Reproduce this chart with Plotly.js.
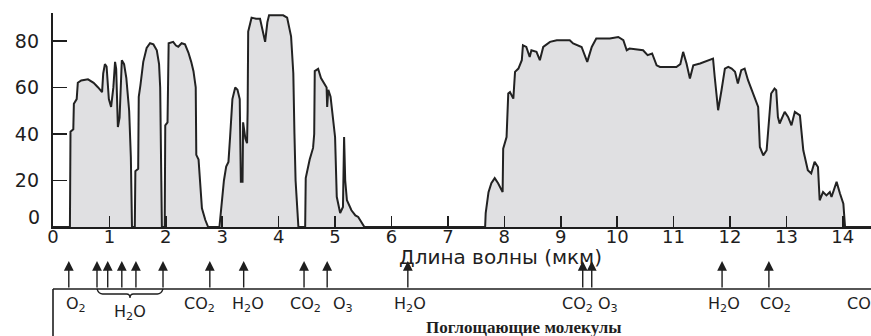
<!DOCTYPE html>
<html>
<head>
<meta charset="utf-8">
<script src="https://cdn.plot.ly/plotly-3.0.1.min.js"></script>
<style>html,body{margin:0;padding:0;background:#fff;}#chart{width:871px;height:336px;}</style>
</head>
<body>
<div id="chart"></div>
<script>
// Wavelength (µm) and atmospheric transmission (%)
const wavelength = [
  0, 0.30, 0.31, 0.36, 0.37, 0.42, 0.44, 0.50, 0.62, 0.72, 0.80, 0.87, 0.89, 0.92, 0.95, 0.99, 1.03, 1.07, 1.10, 1.12, 1.15, 1.18, 1.22, 1.26, 1.30, 1.35, 1.38, 1.40,
  1.45, 1.46, 1.51, 1.52, 1.55, 1.60, 1.66, 1.72, 1.78, 1.84, 1.88, 1.90, 1.92, 1.93,
  1.98, 1.99, 2.03, 2.05, 2.13, 2.18, 2.22, 2.28, 2.34, 2.40, 2.45, 2.49, 2.53, 2.54, 2.58, 2.60, 2.64, 2.70, 2.75,
  2.95, 2.99, 3.03, 3.07, 3.11, 3.14, 3.18, 3.23, 3.27, 3.31, 3.33, 3.36, 3.37, 3.41, 3.44, 3.45, 3.46, 3.52, 3.60, 3.67, 3.72, 3.76, 3.80, 3.83, 4.08, 4.15, 4.22, 4.26, 4.28, 4.30, 4.35,
  4.47, 4.48, 4.55, 4.61, 4.63, 4.64, 4.70, 4.75, 4.80, 4.85, 4.86, 4.88, 4.92, 4.97, 5.00, 5.03, 5.09, 5.14, 5.16, 5.18, 5.21, 5.29, 5.36, 5.41, 5.50, 5.52,
  7.66, 7.67, 7.72, 7.77, 7.83, 7.89, 7.97, 7.98, 8.04, 8.07, 8.10, 8.16, 8.19, 8.25, 8.31, 8.33, 8.39, 8.45, 8.48, 8.57, 8.63, 8.69, 8.81, 8.93, 9.16, 9.22, 9.37, 9.42, 9.47, 9.55, 9.63, 9.87,
  10.02, 10.11, 10.17, 10.22, 10.46, 10.54, 10.62, 10.70, 10.76, 11.05, 11.12, 11.17, 11.23, 11.29, 11.35, 11.47, 11.70, 11.73, 11.79, 11.85, 11.91, 11.97, 12.03, 12.09, 12.14, 12.20, 12.26, 12.32, 12.41, 12.50, 12.53, 12.59, 12.65, 12.71, 12.73, 12.79, 12.82, 12.85, 12.88, 12.97, 13.03, 13.09, 13.15, 13.24, 13.30, 13.38, 13.44, 13.50, 13.56, 13.59, 13.65, 13.71, 13.77, 13.80, 13.89, 13.95, 14.01, 14.04, 14.5
];
const transmission = [
  0, 0, 41, 42, 53, 55, 62, 63, 63.5, 62, 60, 58, 66, 70, 69, 55, 51.6, 60, 71, 68, 43, 47, 71.7, 70, 64, 50, 30, 0,
  0, 24, 25, 56, 61, 71, 77, 79, 78.5, 76, 70, 60, 20, 0,
  0, 43.7, 45, 79, 79.6, 78, 77.5, 79, 78.5, 75, 71, 67, 60, 31, 29, 21, 8, 3, 0,
  0, 10, 20, 26, 28, 39, 55, 60, 59, 55, 19.5, 19.5, 45, 38, 36, 50, 84, 90, 89.5, 89.5, 84, 79.6, 88, 91, 91, 90, 82, 66, 40, 20, 0,
  0, 21, 29, 34, 40, 67, 68, 64, 61.7, 60, 51.6, 59, 56, 45, 38.7, 13, 6, 8.6, 38.7, 20, 11.5, 7.2, 5, 4.3, 0.7, 0,
  0, 6, 15, 18.8, 21, 18.8, 15, 33.7, 38.7, 57.4, 58, 55.2, 66.7, 68.1, 71.7, 78.1, 77.4, 73.1, 76, 75.3, 71.7, 77.4, 79.6, 80.3, 80.3, 78.9, 77.4, 74, 71, 77.4, 81, 81,
  81.7, 80.3, 76, 76.7, 76, 73.9, 74.6, 69.5, 68.8, 68.8, 70, 75.3, 70.3, 63.8, 69.5, 70.3, 72.4, 64.5, 50.2, 58.8, 68.1, 68.8, 68.1, 66.7, 61.7, 67.4, 68.1, 63.1, 57.4, 51.6, 34.4, 30.8, 33, 50.2, 57.4, 59.5, 58.8, 47.3, 44.5, 49.5, 47.3, 43.7, 49.5, 48, 33, 24.4, 23, 28, 25.8, 11.5, 15, 13.6, 15, 12.9, 19.4, 14.4, 10, 0, 0
];

const xTicks = [0,1,2,3,4,5,6,7,8,9,10,11,12,13,14];
const yTicks = [20,40,60,80];

// Absorption-band markers (µm)
const absorberX = [0.28, 0.78, 0.97, 1.22, 1.47, 1.95, 2.78, 3.38, 4.45, 4.86, 6.29, 9.39, 9.55, 11.86, 12.69];
// Molecule labels
const moleculeText = ['O<sub>2</sub>', 'CO<sub>2</sub>', 'H<sub>2</sub>O', 'CO<sub>2</sub>', 'O<sub>3</sub>', 'H<sub>2</sub>O', 'CO<sub>2</sub>', 'O<sub>3</sub>', 'H<sub>2</sub>O', 'CO<sub>2</sub>'];
const moleculeX = [0.41, 2.60, 3.46, 4.47, 5.14, 6.33, 9.29, 9.84, 11.89, 12.80];
const braceText = 'H<sub>2</sub>O';
const braceX = [0.78, 1.95];
const cutText = 'CO<sub>2</sub>';
const cutX = 14.04;

const xTitle = 'Длина волны (мкм)';
const boxTitle = 'Поглощающие молекулы';

const ink = '#1e1e1e';
const font = 'DejaVu Sans, Arial, sans-serif';

const plotTop = 13, plotBottom = 227, H = plotBottom - plotTop;
const py = p => (plotBottom - p) / H; // pixel row -> paper y

const annotations = [];
absorberX.forEach(x => annotations.push({
  x: x, y: py(261), xref: 'x', yref: 'paper', ax: 0, ay: 28, text: '',
  showarrow: true, arrowhead: 2, arrowsize: 1.4, arrowwidth: 1.4, arrowcolor: ink
}));
moleculeText.forEach((t, i) => annotations.push({
  x: moleculeX[i], y: py(304), xref: 'x', yref: 'paper', text: t, showarrow: false,
  font: {family: font, size: 16, color: ink}, xanchor: 'center', yanchor: 'middle'
}));
annotations.push({x: (braceX[0] + braceX[1]) / 2, y: py(312), xref: 'x', yref: 'paper', text: braceText,
  showarrow: false, yanchor: 'middle', font: {family: font, size: 16, color: ink}});
annotations.push({x: cutX, y: py(304), xref: 'x', yref: 'paper', text: cutText, xanchor: 'left', yanchor: 'middle',
  showarrow: false, font: {family: font, size: 16, color: ink}});
annotations.push({x: 7.94, y: py(257), xref: 'x', yref: 'paper', text: xTitle, showarrow: false,
  yanchor: 'middle', font: {family: font, size: 20, color: ink}});
annotations.push({x: 8.35, y: py(327), xref: 'x', yref: 'paper', text: '<b>' + boxTitle + '</b>', showarrow: false,
  yanchor: 'middle', font: {family: 'Liberation Serif, Times New Roman, serif', size: 17, color: ink}});
annotations.push({x: 0, y: 4.2, xref: 'paper', yref: 'y', text: '0', xanchor: 'right', yanchor: 'middle', xshift: -11,
  showarrow: false, font: {family: font, size: 19, color: ink}});

const bL = braceX[0], bR = braceX[1], bM = (bL + bR) / 2;
const bTop = py(289), bMid = py(294), bTip = py(298);
const bracePath = `M ${bL} ${bTop} Q ${bL+0.03} ${bMid} ${bL+0.1} ${bMid} L ${bM-0.06} ${bMid} Q ${bM} ${bMid} ${bM} ${bTip} Q ${bM} ${bMid} ${bM+0.06} ${bMid} L ${bR-0.1} ${bMid} Q ${bR-0.03} ${bMid} ${bR} ${bTop}`;

const shapes = [
  {type: 'line', xref: 'paper', yref: 'paper', x0: 0, x1: 1.01, y0: py(289), y1: py(289), line: {color: ink, width: 1.6}},
  {type: 'line', xref: 'paper', yref: 'paper', x0: 0, x1: 0, y0: py(289), y1: py(340), line: {color: ink, width: 1.6}},
  {type: 'path', xref: 'x', yref: 'paper', path: bracePath, line: {color: ink, width: 1.3}}
];

const trace = {
  x: wavelength, y: transmission, type: 'scatter', mode: 'lines',
  fill: 'tozeroy', fillcolor: '#e0e0e2',
  line: {color: '#222', width: 2, shape: 'linear'},
  hoverinfo: 'skip'
};

const layout = {
  width: 871, height: 336,
  margin: {l: 53, r: 0, t: plotTop, b: 336 - plotBottom, pad: 0},
  paper_bgcolor: '#fff', plot_bgcolor: '#fff',
  showlegend: false,
  xaxis: {
    range: [0, 14.5], tickvals: xTicks, ticktext: xTicks.map(String),
    ticks: 'inside', ticklen: 11, tickwidth: 1.6, tickcolor: ink,
    showline: true, linecolor: ink, linewidth: 2.2, showgrid: false, zeroline: false,
    tickfont: {family: font, size: 18, color: ink}, ticklabelstandoff: -8, fixedrange: true
  },
  yaxis: {
    range: [0, 92], tickvals: yTicks, ticktext: yTicks.map(String),
    ticks: 'inside', ticklen: 14, tickwidth: 1.6, tickcolor: ink,
    showline: true, linecolor: ink, linewidth: 2.2, showgrid: false, zeroline: false,
    tickfont: {family: font, size: 19, color: ink}, ticklabelstandoff: 8, fixedrange: true
  },
  annotations: annotations,
  shapes: shapes
};

Plotly.newPlot('chart', [trace], layout, {staticPlot: true, displayModeBar: false});
</script>
</body>
</html>
